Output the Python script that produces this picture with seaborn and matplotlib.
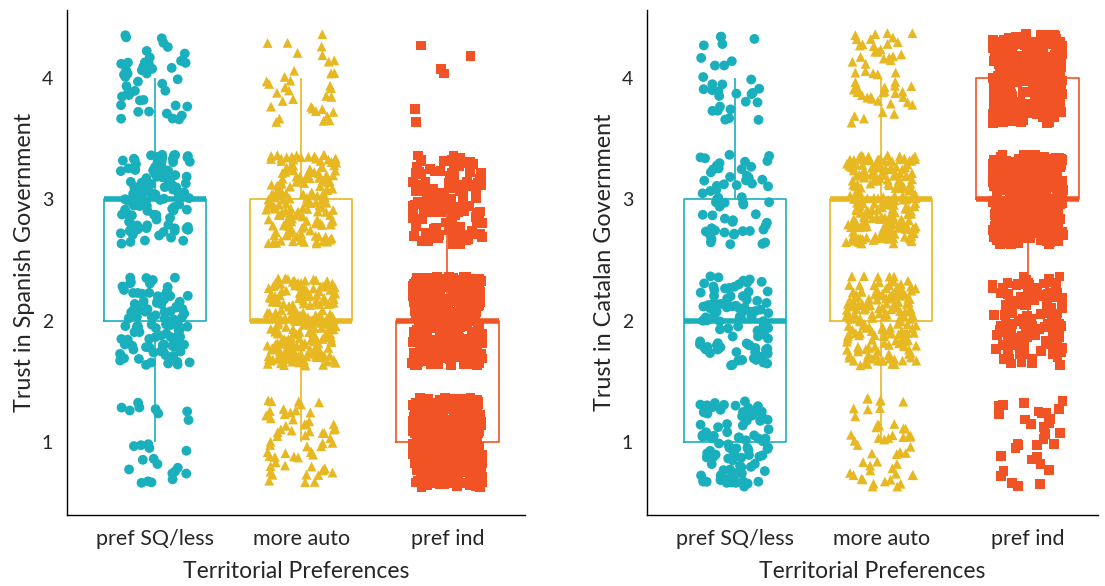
import numpy as np
import pandas as pd
import matplotlib.pyplot as plt
import seaborn as sns

sns.set_style("white")
plt.rcParams['font.family'] = ['Lato', 'DejaVu Sans']

# categories and colours
categories = ["pref SQ/less", "more auto", "pref ind"]
palette = {"pref SQ/less": "#1AAFBD", "more auto": "#E8B823", "pref ind": "#F15325"}
markers = {"pref SQ/less": "o", "more auto": "^", "pref ind": "s"}

# trust levels and respondent counts per level (1, 2, 3, 4)
levels = [1, 2, 3, 4]
spanish_sq = [25, 100, 110, 45]
spanish_auto = [60, 240, 170, 35]
spanish_ind = [354, 330, 130, 6]
catalan_sq = [95, 95, 60, 30]
catalan_auto = [50, 170, 230, 55]
catalan_ind = [32, 130, 358, 300]


def build_frame(counts_by_cat):
    rows = []
    for cat, counts in zip(categories, counts_by_cat):
        for lvl, n in zip(levels, counts):
            rows += [(cat, lvl)] * n
    return pd.DataFrame(rows, columns=["pref", "trust"])


def plot_panel(ax, df, ylabel, seed, xlim):
    # jitter the discrete answers so the points do not overlap
    rng = np.random.default_rng(seed)
    pos = df["pref"].map({c: i for i, c in enumerate(categories)})
    jit = df.assign(xj=pos + rng.uniform(-0.24, 0.24, len(df)),
                    yj=df["trust"] + rng.uniform(-0.37, 0.37, len(df)))
    sns.scatterplot(data=jit, x="xj", y="yj", hue="pref", style="pref",
                    palette=palette, markers=markers, s=50, linewidth=0,
                    legend=False, ax=ax, zorder=0.5)

    sns.boxplot(data=df, x="pref", y="trust", hue="pref", order=categories,
                hue_order=categories, palette=palette, fill=False, width=0.7,
                showfliers=False, legend=False, linewidth=1.2,
                medianprops=dict(linewidth=4), capprops=dict(linewidth=0),
                ax=ax)

    ax.set_xlim(*xlim)
    ax.set_ylim(0.4, 4.56)
    ax.set_xticks(range(3))
    ax.set_xticklabels(categories, fontsize=15.5)
    ax.set_yticks(levels)
    ax.set_yticklabels([str(v) for v in levels], fontsize=14)
    ax.tick_params(axis="both", length=5, width=1, color="black",
                   direction="out", pad=5)
    ax.set_xlabel("Territorial Preferences", fontsize=16.5, labelpad=9)
    ax.set_ylabel(ylabel, fontsize=16.8, labelpad=5)
    for side in ["top", "right"]:
        ax.spines[side].set_visible(False)
    for side in ["left", "bottom"]:
        ax.spines[side].set_color("black")
        ax.spines[side].set_linewidth(1)


fig = plt.figure(figsize=(11.05, 5.86), dpi=100)
ax1 = fig.add_axes([0.0606, 0.121, 0.4145, 0.862])
ax2 = fig.add_axes([0.5855, 0.121, 0.408, 0.862])

plot_panel(ax1, build_frame([spanish_sq, spanish_auto, spanish_ind]),
           "Trust in Spanish Government", 1, (-0.6, 2.53))
plot_panel(ax2, build_frame([catalan_sq, catalan_auto, catalan_ind]),
           "Trust in Catalan Government", 2, (-0.6, 2.48))

plt.savefig("out.png", dpi=100)
